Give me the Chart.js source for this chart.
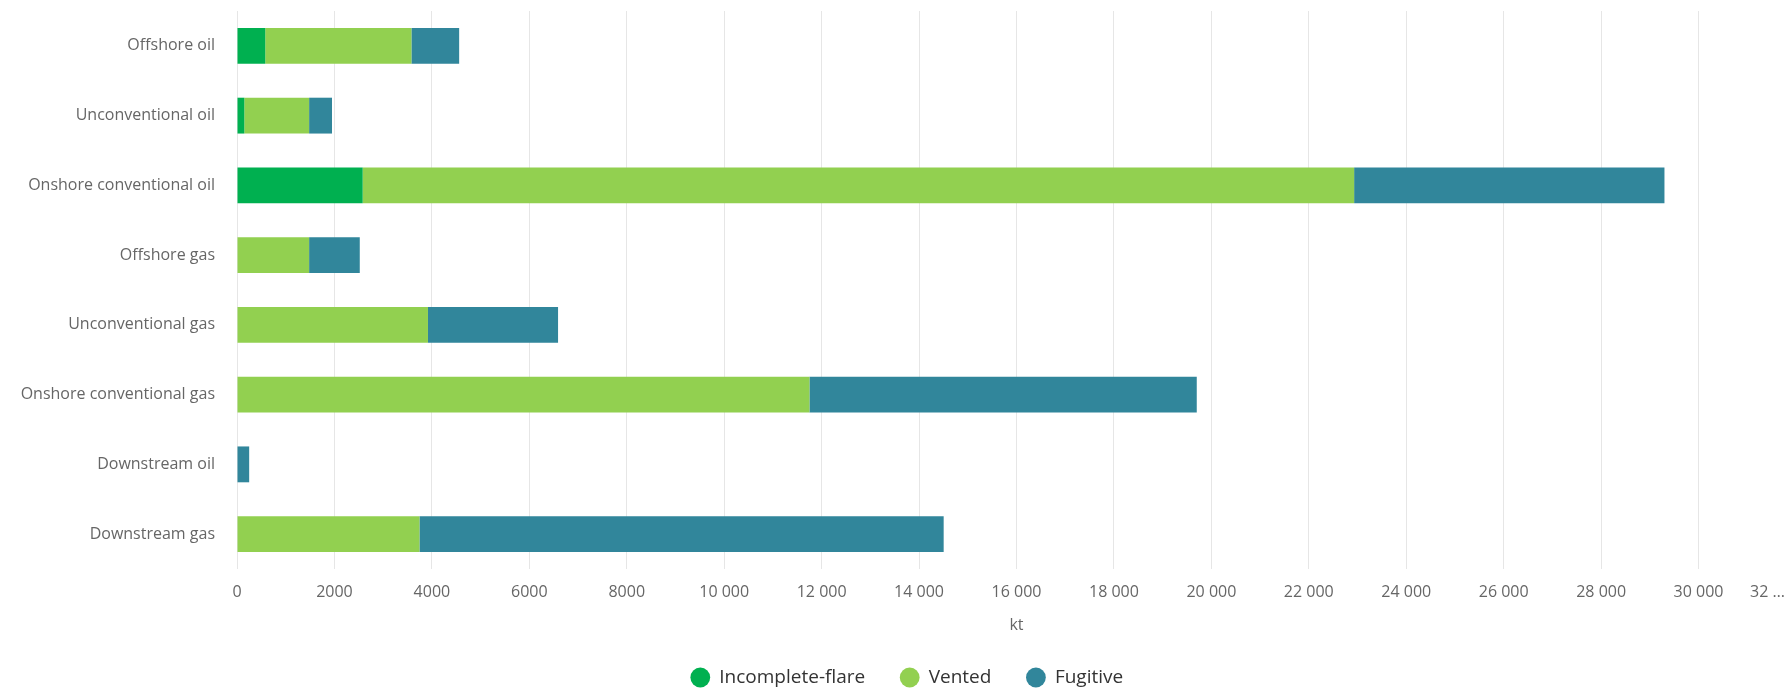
<!DOCTYPE html>
<html>
<head>
<meta charset="utf-8">
<title>Methane emissions by source</title>
<script src="https://cdn.jsdelivr.net/npm/chart.js@4"></script>
<style>
  html, body { margin: 0; padding: 0; background: #fff; overflow: hidden; }
  #wrap { position: relative; width: 1810px; height: 690px; }
</style>
</head>
<body>
<div id="wrap"><canvas id="chart"></canvas></div>
<script>
const categories = [
  "Offshore oil",
  "Unconventional oil",
  "Onshore conventional oil",
  "Offshore gas",
  "Unconventional gas",
  "Onshore conventional gas",
  "Downstream oil",
  "Downstream gas"
];

// kt
const incompleteFlare = [580, 150, 2580, 0, 0, 0, 0, 0];
const vented = [3000, 1330, 20350, 1480, 3920, 11750, 0, 3745];
const fugitive = [980, 470, 6370, 1040, 2670, 7950, 250, 10760];

const xMax = 32000;
const xStep = 2000;

const labelColor = "#666666";
const tickFont = { family: "'Open Sans', sans-serif", size: 16 };

function formatTick(value) {
  if (value >= xMax) return "";
  if (value >= 10000) {
    return String(value).replace(/\B(?=(\d{3})+(?!\d))/g, " ");
  }
  return String(value);
}

// the last label is cut short, like in the original
const lastTickLabel = {
  id: "lastTickLabel",
  afterDraw(chart) {
    const x = chart.scales.x;
    const ctx = chart.ctx;
    ctx.save();
    ctx.font = "16px 'Open Sans', sans-serif";
    ctx.fillStyle = labelColor;
    ctx.textAlign = "right";
    ctx.textBaseline = "middle";
    ctx.fillText("32 …", x.getPixelForValue(xMax) - 11, x.top + 14 + 9.6);
    ctx.restore();
  }
};

document.addEventListener("DOMContentLoaded", () => {
  new Chart(document.getElementById("chart"), {
    type: "bar",
    data: {
      labels: categories,
      datasets: [
        { label: "Incomplete-flare", data: incompleteFlare, backgroundColor: "#00b050" },
        { label: "Vented", data: vented, backgroundColor: "#92d050" },
        { label: "Fugitive", data: fugitive, backgroundColor: "#31869b" }
      ]
    },
    options: {
      indexAxis: "y",
      responsive: true,
      maintainAspectRatio: false,
      animation: false,
      layout: { padding: { top: 11, left: 8, right: 4, bottom: -7 } },
      datasets: {
        bar: { barPercentage: 0.514, categoryPercentage: 1, borderWidth: 0 }
      },
      scales: {
        x: {
          stacked: true,
          min: 0,
          max: xMax,
          border: { display: false },
          grid: { color: "#e6e6e6", drawTicks: false },
          ticks: {
            stepSize: xStep,
            padding: 14,
            color: labelColor,
            font: tickFont,
            maxRotation: 0,
            autoSkip: false,
            callback: (value) => formatTick(value)
          },
          title: {
            display: true,
            text: "kt",
            color: labelColor,
            font: { family: "'Open Sans', sans-serif", size: 16, lineHeight: 1 },
            padding: { top: 0, bottom: 0 }
          },
          afterFit: (scale) => { scale.height = 64; }
        },
        y: {
          stacked: true,
          border: { display: false },
          grid: { display: false, drawTicks: true, tickLength: 22 },
          ticks: { color: labelColor, font: tickFont, padding: 0 },
          afterFit: (scale) => { scale.width = 229; }
        }
      },
      plugins: {
        legend: {
          position: "bottom",
          labels: {
            usePointStyle: true,
            pointStyle: "circle",
            boxWidth: 19,
            boxHeight: 14,
            padding: 35,
            color: "#333333",
            font: { family: "'Open Sans', sans-serif", size: 19 }
          }
        },
        tooltip: { enabled: false }
      }
    },
    plugins: [lastTickLabel]
  });
});
</script>
</body>
</html>
